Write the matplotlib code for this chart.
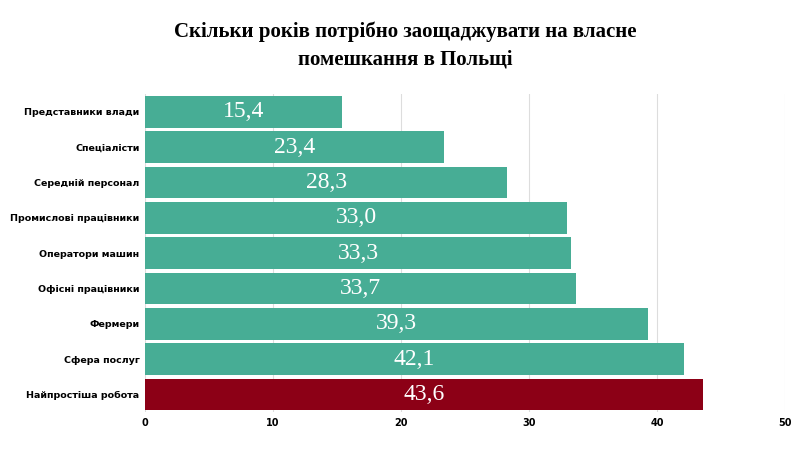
import matplotlib
matplotlib.use("Agg")
import matplotlib.pyplot as plt

categories = ["Представники влади", "Спеціалісти", "Середній персонал",
              "Промислові працівники", "Оператори машин", "Офісні працівники",
              "Фермери", "Сфера послуг", "Найпростіша робота"]
values = [15.4, 23.4, 28.3, 33.0, 33.3, 33.7, 39.3, 42.1, 43.6]
colors = ["#47AD95"] * 8 + ["#8C0016"]
xticks = [0, 10, 20, 30, 40, 50]

fig = plt.figure(figsize=(8.1, 4.5), dpi=100)
ax = fig.add_axes([0.179, 0.084, 0.79, 0.707])
y = list(range(len(categories)))
ax.barh(y, values, height=0.9, color=colors, zorder=2)
ax.set_ylim(len(categories) - 0.5, -0.5)
ax.set_xlim(0, 50)
ax.set_xticks(xticks)
ax.set_xticklabels([str(t) for t in xticks], fontsize=7, fontweight="bold")
ax.set_yticks(y)
ax.set_yticklabels(categories, fontsize=6.8, fontweight="bold")
ax.tick_params(length=0, pad=4)
ax.grid(axis="x", color="#DDDDDD", linewidth=0.8, zorder=0)
for s in ax.spines.values():
    s.set_visible(False)
for yi, v in zip(y, values):
    ax.text(v / 2, yi, f"{v:.1f}".replace(".", ","), ha="center", va="center",
            color="white", fontsize=17, family="Liberation Serif", zorder=3)
fig.text(0.5, 0.9, "Скільки років потрібно заощаджувати на власне\nпомешкання в Польщі",
         ha="center", va="center", fontsize=15, fontweight="bold",
         family="Liberation Serif", linespacing=1.5)
fig.savefig("out.png", dpi=100)
